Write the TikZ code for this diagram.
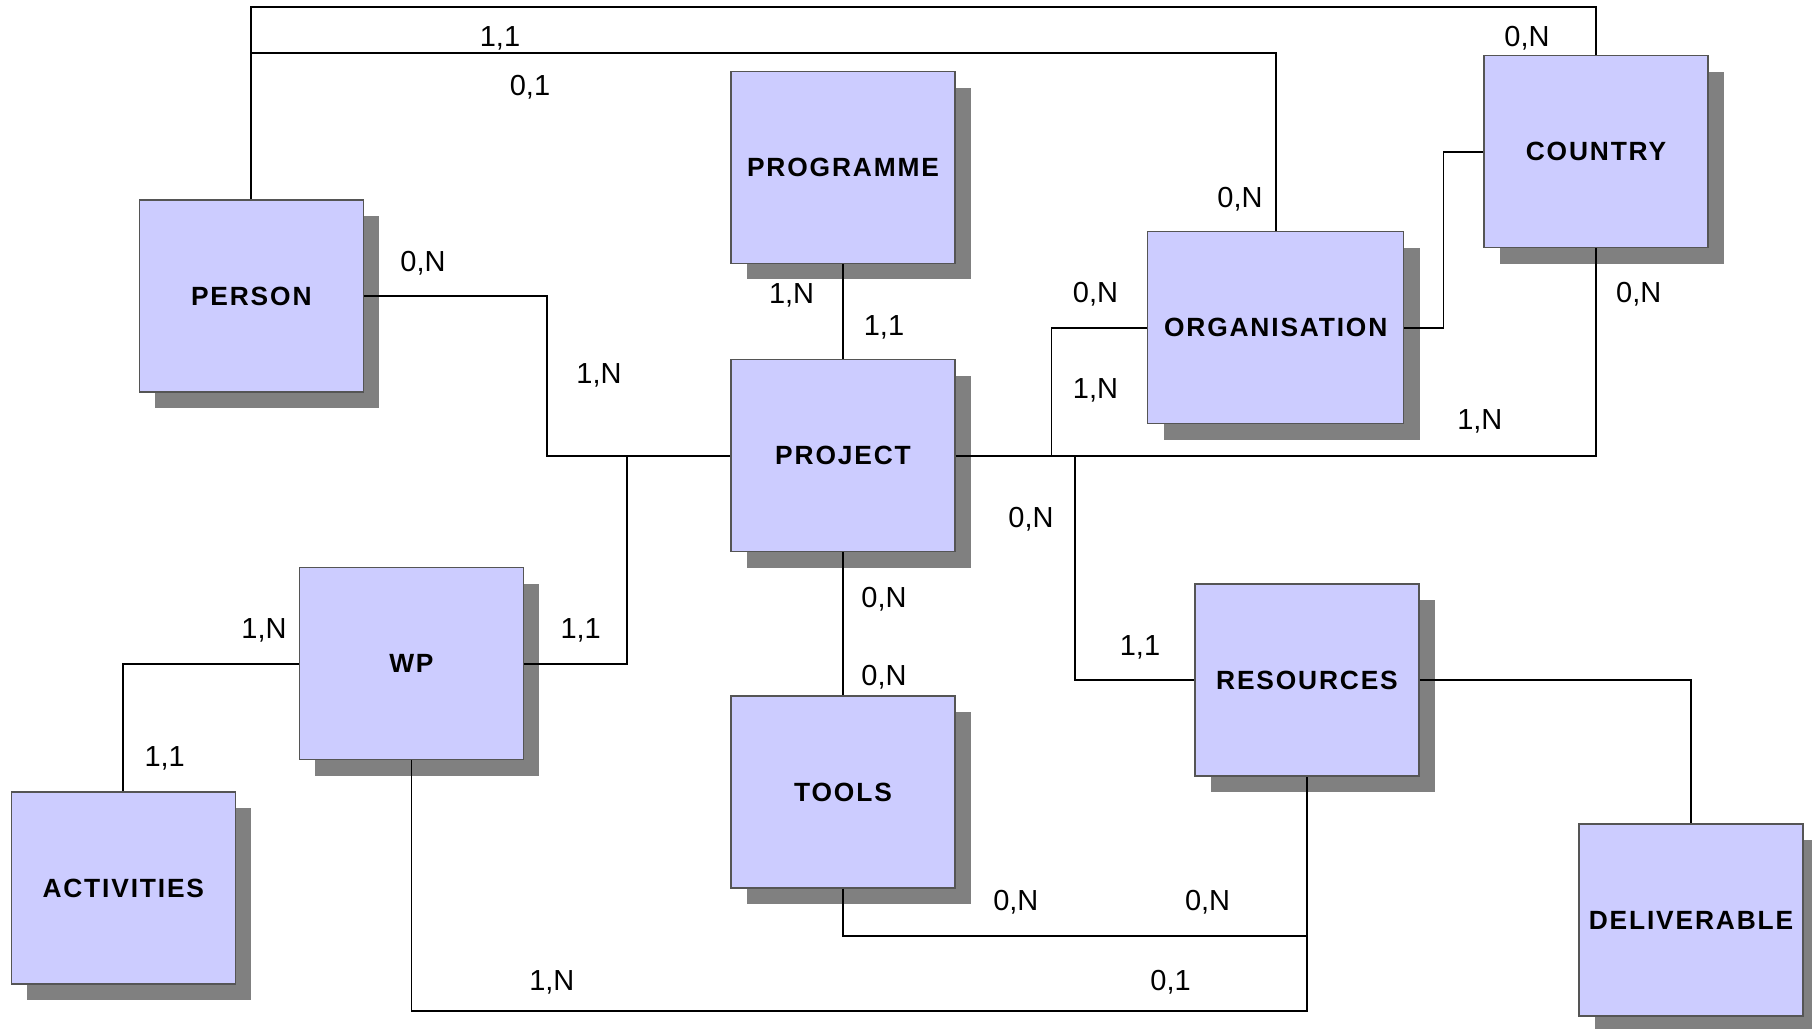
\documentclass[tikz,border=0pt]{standalone}
\usepackage{fontspec}
\setmainfont{Liberation Sans}
\newfontfamily\boxfont[LetterSpace=7]{Liberation Sans}
\usetikzlibrary{shadows}
\definecolor{boxfill}{HTML}{CCCCFF}
\definecolor{boxline}{HTML}{555555}
\definecolor{boxshadow}{HTML}{808080}
\tikzset{
  entity/.style={draw=boxline, line width=0.8pt, fill=boxfill,
    minimum width=4.48cm, minimum height=3.84cm, inner sep=0pt,
    font=\boxfont\bfseries\fontsize{15}{17}\selectfont,
    drop shadow={shadow xshift=0.32cm, shadow yshift=-0.32cm,
      fill=boxshadow, opacity=1}},
  card/.style={font=\fontsize{16.5}{19}\selectfont, inner sep=0pt},
  link/.style={line width=1pt}
}
\begin{document}
\begin{tikzpicture}[x=0.02cm,y=-0.02cm]
\useasboundingbox (0,0) rectangle (1812,1028);
% entities
\node[entity] (person) at (251.3,296) {PERSON};
\node[entity] (programme) at (843,167.5) {PROGRAMME};
\node[entity] (project) at (843,455.7) {PROJECT};
\node[entity,minimum width=5.12cm] (organisation) at (1275.7,327.7) {ORGANISATION};
\node[entity] (country) at (1596,151.7) {COUNTRY};
\node[entity] (wp) at (411.4,663.7) {WP};
\node[entity] (tools) at (843,792) {TOOLS};
\node[entity] (resources) at (1307,680) {RESOURCES};
\node[entity] (activities) at (123.3,888) {ACTIVITIES};
\node[entity] (deliverable) at (1691,920) {DELIVERABLE};
% relations
\draw[link] (person.north) -- (251.3,7.3) -| (country.north);
\draw[link] (251.3,52.7) -| (organisation.north);
\draw[link] (person.east) -| (547,455.7) -- (project.west);
\draw[link] (627,455.7) |- (wp.east);
\draw[link] (programme.south) -- (project.north);
\draw[link] (project.east) -| (country.south);
\draw[link] (1051.6,455.7) |- (organisation.west);
\draw[link] (1075,455.7) |- (resources.west);
\draw[link] (organisation.east) -- ++(39,0) |- (country.west);
\draw[link] (project.south) -- (tools.north);
\draw[link] (wp.west) -| (activities.north);
\draw[link] (wp.south) -- ++(0,250.7) -| (resources.south);
\draw[link] (tools.south) |- (resources.south |- 0,935.7);
\draw[link] (resources.east) -| (deliverable.north);
% cardinalities
\node[card] (pc1) at (500,38) {1,1};
\node[card] (pc2) at (1527,38) {0,N};
\node[card] (po1) at (530,87) {0,1};
\node[card] (po2) at (1240,199) {0,N};
\node[card] (pp1) at (423,263) {0,N};
\node[card] (pp2) at (599,375) {1,N};
\node[card] (gp1) at (791.6,295) {1,N};
\node[card] (gp2) at (884,327) {1,1};
\node[card] (op1) at (1095.5,294) {0,N};
\node[card] (op2) at (1095.5,390) {1,N};
\node[card] (cp1) at (1479.8,421.7) {1,N};
\node[card] (cp2) at (1638.7,294) {0,N};
\node[card] (rp1) at (1031,519) {0,N};
\node[card] (rp2) at (1140,647) {1,1};
\node[card] (wp1) at (580.7,630.7) {1,1};
\node[card] (wa1) at (264,630) {1,N};
\node[card] (wa2) at (164.7,758.3) {1,1};
\node[card] (tp1) at (884,599) {0,N};
\node[card] (tp2) at (884,677) {0,N};
\node[card] (wr1) at (551.8,982.3) {1,N};
\node[card] (wr2) at (1170.6,982.3) {0,1};
\node[card] (tr1) at (1015.8,902.3) {0,N};
\node[card] (tr2) at (1207.6,902.3) {0,N};
\end{tikzpicture}
\end{document}
